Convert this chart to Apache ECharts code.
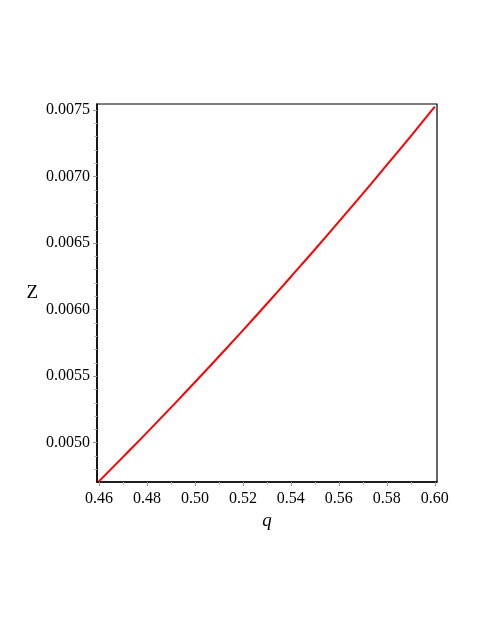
<!DOCTYPE html>
<html>
<head>
<meta charset="utf-8">
<script src="https://cdn.jsdelivr.net/npm/echarts@6/dist/echarts.min.js"></script>
<style>
  html, body { margin: 0; padding: 0; background: #fff; }
  #main { width: 486px; height: 629px; }
</style>
</head>
<body>
<div id="main"></div>
<script>
// q values and Z
const qValues = [0.46, 0.47, 0.48, 0.49, 0.50, 0.51, 0.52, 0.53, 0.54, 0.55, 0.56, 0.57, 0.58, 0.59, 0.60]
const zValues = [0.004710, 0.004892, 0.005076, 0.005264, 0.005454, 0.005648, 0.005844, 0.006044,
  0.006247, 0.006452, 0.006661, 0.006872, 0.007087, 0.007304, 0.007525]

const xTicks = [0.46, 0.48, 0.50, 0.52, 0.54, 0.56, 0.58, 0.60]
const xMinorTicks = [0.47, 0.49, 0.51, 0.53, 0.55, 0.57, 0.59]
const yTicks = [0.0050, 0.0055, 0.0060, 0.0065, 0.0070, 0.0075]
const yMinorTicks = [0.0048, 0.0049, 0.0051, 0.0052, 0.0053, 0.0054, 0.0056, 0.0057, 0.0058, 0.0059,
  0.0061, 0.0062, 0.0063, 0.0064, 0.0066, 0.0067, 0.0068, 0.0069, 0.0071, 0.0072, 0.0073, 0.0074]

const font = 'Liberation Serif'
const chart = echarts.init(document.getElementById('main'))

const xRange = { min: 0.4592, max: 0.6009 }
const yRange = { min: 0.004705, max: 0.007545 }

chart.setOption({
  animation: false,
  grid: {
    left: 97, top: 104, width: 340, height: 378,
    show: true, borderColor: '#000', borderWidth: 1.2
  },
  xAxis: [
    {
      type: 'value', ...xRange,
      name: 'q',
      nameLocation: 'middle',
      nameGap: 29,
      nameTextStyle: { fontFamily: font, fontSize: 19, fontStyle: 'italic', color: '#000' },
      axisLine: { show: true, onZero: false, lineStyle: { color: '#000', width: 1.5 } },
      axisTick: { show: true, length: 4, customValues: xTicks, lineStyle: { color: '#999' } },
      axisLabel: {
        customValues: xTicks, margin: 9,
        fontFamily: font, fontSize: 16, color: '#000',
        formatter: v => v.toFixed(2)
      },
      splitLine: { show: false }
    },
    {
      type: 'value', ...xRange,
      position: 'bottom',
      axisLine: { show: false },
      axisTick: { show: true, length: 3, customValues: xMinorTicks, lineStyle: { color: '#bbb' } },
      axisLabel: { show: false },
      splitLine: { show: false }
    }
  ],
  yAxis: [
    {
      type: 'value', ...yRange,
      name: 'Z',
      nameLocation: 'middle',
      nameRotate: 0,
      nameGap: 59,
      nameTextStyle: { fontFamily: font, fontSize: 19, color: '#000' },
      axisLine: { show: true, onZero: false, lineStyle: { color: '#000', width: 1.5 } },
      axisTick: { show: true, length: 4, customValues: yTicks, lineStyle: { color: '#999' } },
      axisLabel: {
        customValues: yTicks, margin: 7,
        fontFamily: font, fontSize: 16, color: '#000',
        formatter: v => v.toFixed(4)
      },
      splitLine: { show: false }
    },
    {
      type: 'value', ...yRange,
      position: 'left',
      axisLine: { show: false },
      axisTick: { show: true, length: 3, customValues: yMinorTicks, lineStyle: { color: '#bbb' } },
      axisLabel: { show: false },
      splitLine: { show: false }
    }
  ],
  series: [
    {
      type: 'line',
      data: qValues.map((q, i) => [q, zValues[i]]),
      showSymbol: false,
      smooth: true,
      lineStyle: { color: '#ff0000', width: 2 },
      xAxisIndex: 0,
      yAxisIndex: 0
    }
  ]
})
</script>
</body>
</html>
